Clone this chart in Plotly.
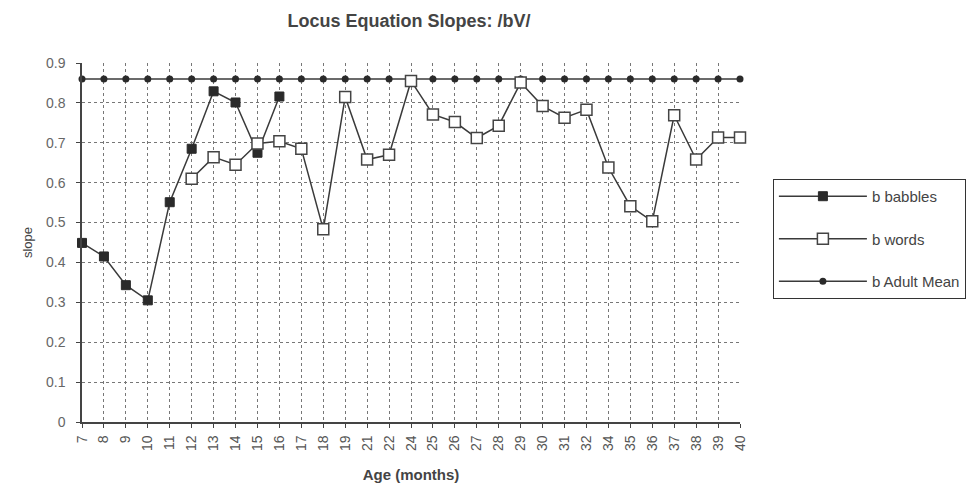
import plotly.graph_objects as go

ages = ["7", "8", "9", "10", "11", "12", "13", "14", "15", "16", "17", "18", "19",
        "21", "22", "24", "25", "26", "27", "28", "29", "30", "31", "32",
        "34", "35", "36", "37", "38", "39", "40"]

babble_ages = ["7", "8", "9", "10", "11", "12", "13", "14", "15", "16"]
babbles = [0.449, 0.415, 0.343, 0.305, 0.551, 0.685, 0.829, 0.801, 0.675, 0.816]

word_ages = ["12", "13", "14", "15", "16", "17", "18", "19", "21", "22", "24", "25",
             "26", "27", "28", "29", "30", "31", "32", "34", "35", "36", "37", "38",
             "39", "40"]
words = [0.610, 0.664, 0.645, 0.698, 0.704, 0.685, 0.483, 0.815, 0.658, 0.670, 0.855,
         0.771, 0.752, 0.712, 0.743, 0.851, 0.792, 0.763, 0.783, 0.638, 0.541, 0.503,
         0.769, 0.658, 0.713, 0.713]

adult_mean = [0.86] * len(ages)

y_ticks = [0, 0.1, 0.2, 0.3, 0.4, 0.5, 0.6, 0.7, 0.8, 0.9]
y_tick_text = ["0", "0.1", "0.2", "0.3", "0.4", "0.5", "0.6", "0.7", "0.8", "0.9"]

FONT = "Liberation Sans, Arial, sans-serif"
LINE = "#3a3a3a"

fig = go.Figure()
fig.add_trace(go.Scatter(
    x=ages, y=adult_mean, name="b Adult Mean", mode="lines+markers",
    line=dict(color=LINE, width=1.5),
    marker=dict(symbol="circle", size=7, color="#2a2a2a"),
    cliponaxis=False, legendgroup="c", legendrank=3))
fig.add_trace(go.Scatter(
    x=babble_ages, y=babbles, name="b babbles", mode="lines+markers",
    line=dict(color=LINE, width=1.5),
    marker=dict(symbol="square", size=9, color="#2a2a2a", line=dict(color="#2a2a2a", width=1)),
    cliponaxis=False, legendgroup="a", legendrank=1))
fig.add_trace(go.Scatter(
    x=word_ages, y=words, name="b words", mode="lines+markers",
    line=dict(color=LINE, width=1.5),
    marker=dict(symbol="square", size=11, color="white", line=dict(color="#444", width=1.5)),
    cliponaxis=False, legendgroup="b", legendrank=2))

fig.update_layout(
    width=968, height=491,
    margin=dict(l=82, r=228, t=63, b=69, autoexpand=False),
    paper_bgcolor="white", plot_bgcolor="white",
    font=dict(family=FONT, color="#333", size=11),
    title=dict(text="<b>Locus Equation Slopes: /bV/</b>", x=409 / 968, xanchor="center",
               y=1 - 21 / 491, yanchor="middle", font=dict(size=18, color="#444")),
    showlegend=True,
    legend=dict(x=1.05, xanchor="left", y=0.677, yanchor="top",
                bordercolor="#333", borderwidth=1, bgcolor="white",
                font=dict(size=15, color="#444"), itemwidth=88,
                tracegroupgap=20, traceorder="grouped"),
)

fig.update_xaxes(
    type="category", categoryorder="array", categoryarray=ages,
    range=[0, len(ages) - 1],
    showline=True, linecolor="#444", linewidth=1.5,
    showgrid=True, gridcolor="#777", griddash="dot", gridwidth=1,
    ticks="outside", ticklen=4, tickcolor="#444",
    tickangle=-90, tickfont=dict(size=14, color="#555"), ticklabelstandoff=2,
    title=dict(text="<b>Age (months)</b>", font=dict(size=15, color="#444"), standoff=20),
    zeroline=False, mirror=False,
)
fig.update_yaxes(
    range=[0, 0.9], tickvals=y_ticks, ticktext=y_tick_text,
    showline=True, linecolor="#444", linewidth=1.5,
    showgrid=True, gridcolor="#777", griddash="dot", gridwidth=1,
    ticks="outside", ticklen=4, tickcolor="#444",
    tickfont=dict(size=14, color="#666"), ticklabelstandoff=8,
    title=dict(text="slope", font=dict(size=13, color="#444"), standoff=10),
    zeroline=False,
)

fig.write_html("out.html")
